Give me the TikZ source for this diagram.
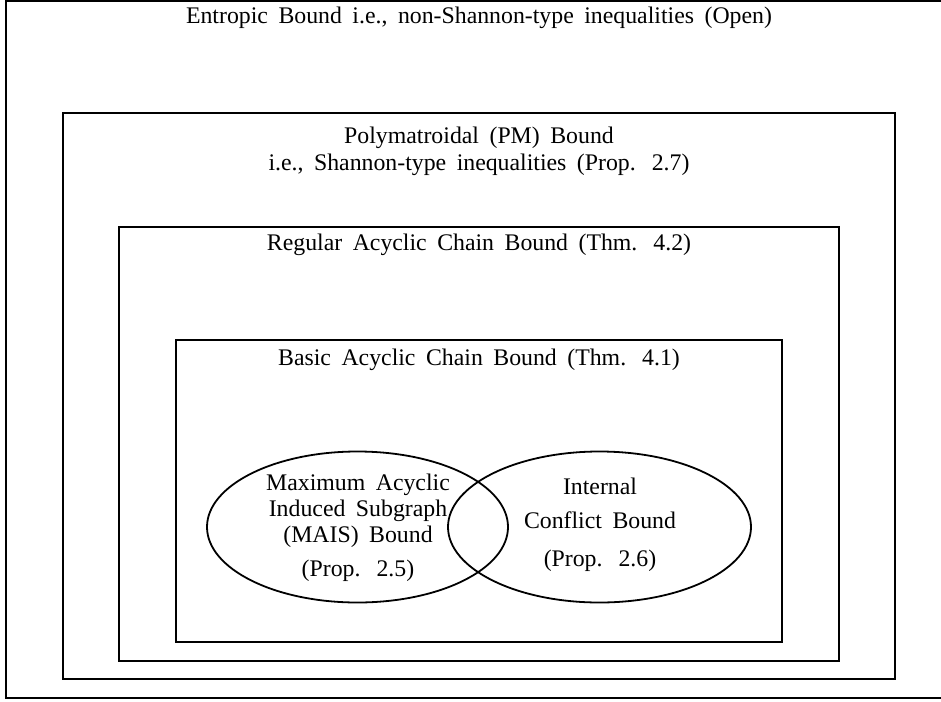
\documentclass[tikz,border=0pt]{standalone}
\usepackage{fontspec}
\setmainfont{Liberation Serif}
\usetikzlibrary{positioning,shapes.geometric}

\tikzset{
  bound/.style={draw, rectangle, line width=2.6pt, inner sep=0pt},
  region/.style={draw, ellipse, line width=1.8pt, inner sep=0pt},
  lbl/.style={anchor=base, inner sep=0pt,
    font={\fontsize{23.8}{27}\selectfont\spaceskip=10.5pt\xspaceskip=16pt}}
}

\begin{document}
\begin{tikzpicture}[x=1pt,y=-1pt]
	\clip (0,0) rectangle (941,701);

	% nested bounds
	\node[bound, minimum width=946pt, minimum height=697pt] (entropic) at (479,349.5) {};
	\node[bound, minimum width=832pt, minimum height=566pt] (pm)       at (479,396) {};
	\node[bound, minimum width=720pt, minimum height=434pt] (regular)  at (479,444) {};
	\node[bound, minimum width=606pt, minimum height=302pt] (basic)    at (479,491) {};

	\node[lbl] (entropic_t) at (479,24)  {Entropic Bound i.e., non-Shannon-type inequalities (Open)};
	\node[lbl] (pm_t1)      at (479,143) {Polymatroidal (PM) Bound};
	\node[lbl] (pm_t2)      at (479,170) {i.e., Shannon-type inequalities (Prop. 2.7)};
	\node[lbl] (regular_t)  at (479,250) {Regular Acyclic Chain Bound (Thm. 4.2)};
	\node[lbl] (basic_t)    at (479,365) {Basic Acyclic Chain Bound (Thm. 4.1)};

	% the two overlapping bounds
	\node[region, minimum width=301pt, minimum height=151pt] (mais) at (357.5,527) {};
	\node[region, minimum width=303pt, minimum height=151pt] (ic)   at (599.5,527) {};

	\node[lbl] (mais_t1) at (358,490) {Maximum Acyclic};
	\node[lbl] (mais_t2) at (358,516) {Induced Subgraph};
	\node[lbl] (mais_t3) at (358,542) {(MAIS) Bound};
	\node[lbl] (mais_t4) at (358,576) {(Prop. 2.5)};

	\node[lbl] (ic_t1) at (600,494) {Internal};
	\node[lbl] (ic_t2) at (600,528) {Conflict Bound};
	\node[lbl] (ic_t3) at (600,566) {(Prop. 2.6)};
\end{tikzpicture}
\end{document}
